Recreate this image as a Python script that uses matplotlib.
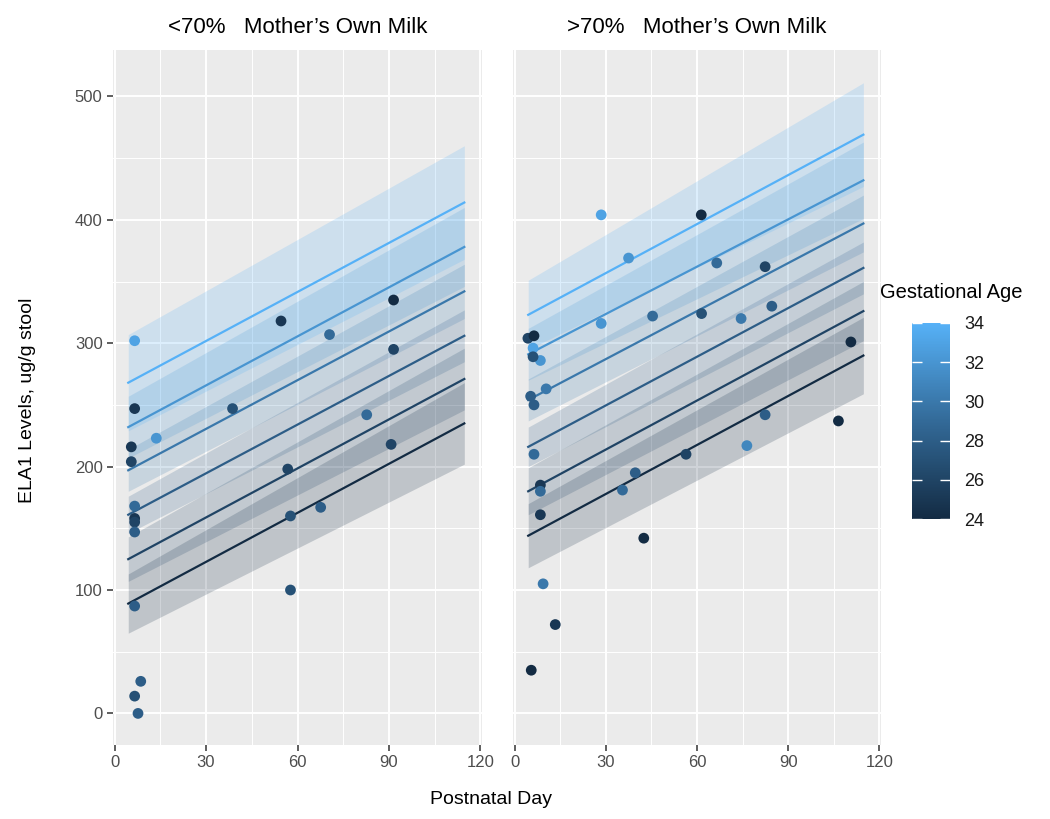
import numpy as np
import matplotlib
matplotlib.use("Agg")
import matplotlib.pyplot as plt
from matplotlib.colors import LinearSegmentedColormap, Normalize
from matplotlib.cm import ScalarMappable

plt.rcParams['font.family'] = ['Liberation Sans', 'DejaVu Sans']

# gestational age levels for the fitted lines
ga_levels = [24, 26, 28, 30, 32, 34]
x_start, x_end = 4.5, 114.7

# <70% mother's own milk: fitted line ends and CI half widths
low_line_start = [89, 125, 161, 197, 232, 268]
low_line_end = [235, 271, 306, 342, 378, 414]
low_hw_start = [24, 18, 15, 17, 25, 39]
low_hw_end = [33, 25, 21, 22, 32, 46]

# >70% mother's own milk
high_line_start = [144, 180, 216, 254, 291, 323]
high_line_end = [290, 326, 361, 397, 432, 469]
high_hw_start = [26, 19, 16, 17, 21, 28]
high_hw_end = [31, 24, 21, 23, 31, 42]

# observed points: day, ELA1, gestational age
low_day = [6.6, 6.6, 13.7, 5.5, 5.5, 6.6, 6.6, 6.6, 6.6, 6.6, 8.6, 6.6, 7.7,
           54.6, 70.5, 91.5, 91.5, 38.7, 82.7, 90.7, 56.8, 57.7, 67.6, 57.7]
low_ela = [302, 247, 223, 216, 204, 168, 158, 155, 147, 87, 26, 14, 0,
           318, 307, 335, 295, 247, 242, 218, 198, 160, 167, 100]
low_ga = [33, 25, 32, 25, 26, 29, 25, 26, 28, 28, 28, 27, 28,
          25, 29, 24, 26, 27, 29, 26, 26, 27, 28, 27]

high_day = [110.6, 106.5, 82.4, 76.4, 56.4, 39.7, 35.5, 42.5, 9.4, 13.4, 5.5,
            8.5, 8.5, 8.5, 6.4, 6.4, 5.3, 10.4, 8.5, 6.1, 4.4, 6.4, 6.1,
            28.5, 45.4, 61.5, 74.5, 84.6, 28.5, 61.4, 37.5, 66.5, 82.4]
high_ela = [301, 237, 242, 217, 210, 195, 181, 142, 105, 72, 35,
            161, 185, 180, 210, 250, 257, 263, 286, 296, 304, 306, 289,
            316, 322, 324, 320, 330, 404, 404, 369, 365, 362]
high_ga = [24, 24, 28, 31, 26, 28, 29, 24, 30, 25, 24,
           25, 25, 29, 29, 28, 28, 30, 32, 33, 26, 24, 27,
           32, 29, 27, 30, 28, 33, 24, 32, 29, 26]

panels = [
    ("<70%   Mother\u2019s Own Milk", low_line_start, low_line_end, low_hw_start, low_hw_end,
     low_day, low_ela, low_ga),
    (">70%   Mother\u2019s Own Milk", high_line_start, high_line_end, high_hw_start, high_hw_end,
     high_day, high_ela, high_ga),
]

cmap = LinearSegmentedColormap.from_list("gg", ["#132B43", "#336A98", "#56B1F7"])
norm = Normalize(24, 34)

fig = plt.figure(figsize=(10.5, 8.19), dpi=100)
W, H = 1050, 819
axes = [fig.add_axes([113 / W, 1 - 745 / H, 369 / W, 695 / H]),
        fig.add_axes([513 / W, 1 - 745 / H, 368 / W, 695 / H])]

xs = np.array([x_start, x_end])
for i, (ax, p) in enumerate(zip(axes, panels)):
    title, ls, le, hs, he, day, ela, ga = p
    ax.set_facecolor("#EBEBEB")
    for s in ax.spines.values():
        s.set_visible(False)
    ax.set_xlim(-0.5, 120.5)
    ax.set_ylim(-25.6, 537.6)
    ax.set_xticks([0, 30, 60, 90, 120])
    ax.set_yticks([0, 100, 200, 300, 400, 500])
    ax.set_xticks([15, 45, 75, 105], minor=True)
    ax.set_yticks([50, 150, 250, 350, 450], minor=True)
    ax.grid(True, which="major", color="white", lw=1.4)
    ax.grid(True, which="minor", color="white", lw=0.7)
    ax.set_axisbelow(True)
    ax.tick_params(which="minor", length=0)
    ax.tick_params(which="major", colors="#333333", labelcolor="#4D4D4D",
                   labelsize=12, length=4, width=1.1)
    if i == 1:
        ax.tick_params(axis="y", left=False, labelleft=False)

    for k, g in enumerate(ga_levels):
        c = cmap(norm(g))
        line = np.array([ls[k], le[k]])
        hw = np.array([hs[k], he[k]])
        ax.fill_between(xs, line - hw, line + hw, color=c, alpha=0.2, lw=0)
    for k, g in enumerate(ga_levels):
        ax.plot(xs, [ls[k], le[k]], color=cmap(norm(g)), lw=1.6)

    ax.scatter(day, ela, c=ga, cmap=cmap, norm=norm, s=60, lw=0, zorder=5)
    ax.set_title(title, fontsize=16, pad=12)

fig.text(491 / W, 1 - 800 / H, "Postnatal Day", ha="center", va="center", fontsize=14)
fig.text(28 / W, 1 - 400 / H, "ELA1 Levels, ug/g stool", ha="center", va="center",
         rotation=90, fontsize=14)

# colour bar
cax = fig.add_axes([912 / W, 1 - 519 / H, 38 / W, 196 / H])
cb = fig.colorbar(ScalarMappable(norm=norm, cmap=cmap), cax=cax, ticks=[24, 26, 28, 30, 32, 34])
cb.outline.set_visible(False)
cax.tick_params(left=True, right=True, labelleft=False, labelright=True, direction="in",
                color="white", length=7, width=1, labelsize=13, labelcolor="#1A1A1A", pad=10)
fig.text(880 / W, 1 - 293 / H, "Gestational Age", ha="left", va="center", fontsize=14.5)

fig.savefig("out.png", dpi=100)
